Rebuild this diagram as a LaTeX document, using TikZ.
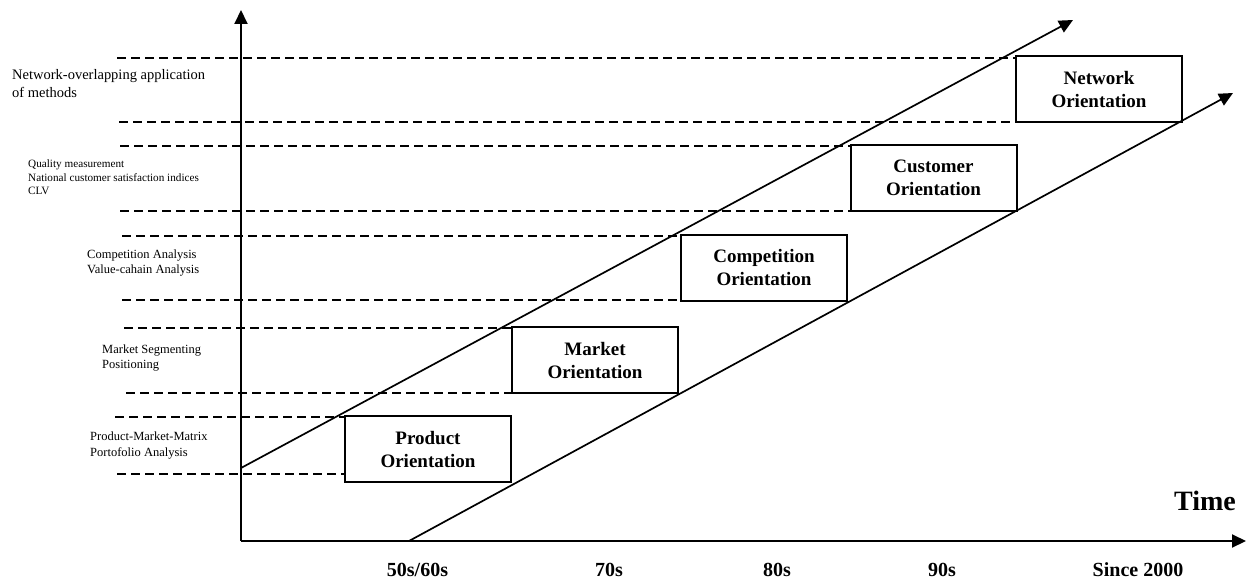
\documentclass[tikz,border=0pt]{standalone}
\usepackage{fontspec}
\setmainfont{Liberation Serif}
\usetikzlibrary{arrows.meta}
\begin{document}
\begin{tikzpicture}[x=1pt,y=-1pt,
  axis/.style={line width=2pt,-{Triangle[length=14pt,width=13pt]}},
  trend/.style={line width=1.7pt,-{Triangle[length=14pt,width=13pt]}},
  guide/.style={dash pattern=on 9pt off 5pt,line width=1.5pt},
  stage/.style={draw,line width=2pt,minimum width=166pt,minimum height=66pt,
    align=center,inner sep=0pt,font=\fontsize{19pt}{23pt}\selectfont\bfseries},
  % anchored at the baseline of the last line
  method/.style={anchor=base west,align=left,inner sep=0pt},
  era/.style={anchor=base,inner sep=0pt,font=\fontsize{20pt}{24pt}\selectfont\bfseries}
]
\useasboundingbox (0,0) rectangle (1247,580);

% axes
\coordinate (O) at (241,541);
\coordinate (ytop) at (241,10);
\coordinate (xend) at (1246,541);
\draw[axis] (O) -- (ytop);
\draw[axis] (O) -- (xend);

% orientation stages
\node[stage] (prod) at (428,449)   {Product\\Orientation};
\node[stage] (mkt)  at (595,360)   {Market\\Orientation};
\node[stage] (comp) at (764,268)   {Competition\\Orientation};
\node[stage] (cust) at (933.5,178) {Customer\\Orientation};
\node[stage] (net)  at (1099,89.5) {Network\\Orientation};

% start points of the dashed guides
\coordinate (g1)  at (117,58);
\coordinate (g2)  at (119,122);
\coordinate (g3)  at (120,146);
\coordinate (g4)  at (120,211);
\coordinate (g5)  at (122,236);
\coordinate (g6)  at (122,300);
\coordinate (g7)  at (124,328);
\coordinate (g8)  at (126,393);
\coordinate (g9)  at (115,417);
\coordinate (g10) at (117,474);
\draw[guide] (g1) -- (g1 -| net.west);
\draw[guide] (g2) -- (g2 -| net.west);
\draw[guide] (g3) -- (g3 -| cust.west);
\draw[guide] (g4) -- (g4 -| cust.west);
\draw[guide] (g5) -- (g5 -| comp.west);
\draw[guide] (g6) -- (g6 -| comp.west);
\draw[guide] (g7) -- (g7 -| mkt.west);
\draw[guide] (g8) -- (g8 -| mkt.west);
\draw[guide] (g9) -- (g9 -| prod.west);
\draw[guide] (g10) -- (g10 -| prod.west);

% trend corridor
\coordinate (u0) at (241,468);
\coordinate (u1) at (1073,20);
\coordinate (l0) at (409,541);
\coordinate (l1) at (1233,93);
\draw[trend] (u0) -- (u1);
\draw[trend] (l0) -- (l1);

% methods per stage
\node[method,font=\fontsize{14.5pt}{18pt}\selectfont] (m5) at (12,98)
  {Network-overlapping application\\of methods};
\node[method,font=\fontsize{11.2pt}{13.5pt}\selectfont] (m4) at (28,195)
  {Quality measurement\\National customer satisfaction indices\\CLV};
\node[method,font=\fontsize{12.5pt}{15pt}\selectfont] (m3) at (87,273)
  {Competition Analysis\\Value-cahain Analysis};
\node[method,font=\fontsize{12.5pt}{15pt}\selectfont] (m2) at (102,368)
  {Market Segmenting\\Positioning};
\node[method,font=\fontsize{12.5pt}{16pt}\selectfont] (m1) at (90,456)
  {Product-Market-Matrix\\Portofolio Analysis};

% time axis labels
\node[era] (e1) at (417.5,576) {50s/60s};
\node[era] (e2) at (609,576)   {70s};
\node[era] (e3) at (777,576)   {80s};
\node[era] (e4) at (942,576)   {90s};
\node[era] (e5) at (1138,576)  {Since 2000};
\node[anchor=base,inner sep=0pt,font=\fontsize{28pt}{32pt}\selectfont\bfseries]
  (time) at (1205,510) {Time};
\end{tikzpicture}
\end{document}
